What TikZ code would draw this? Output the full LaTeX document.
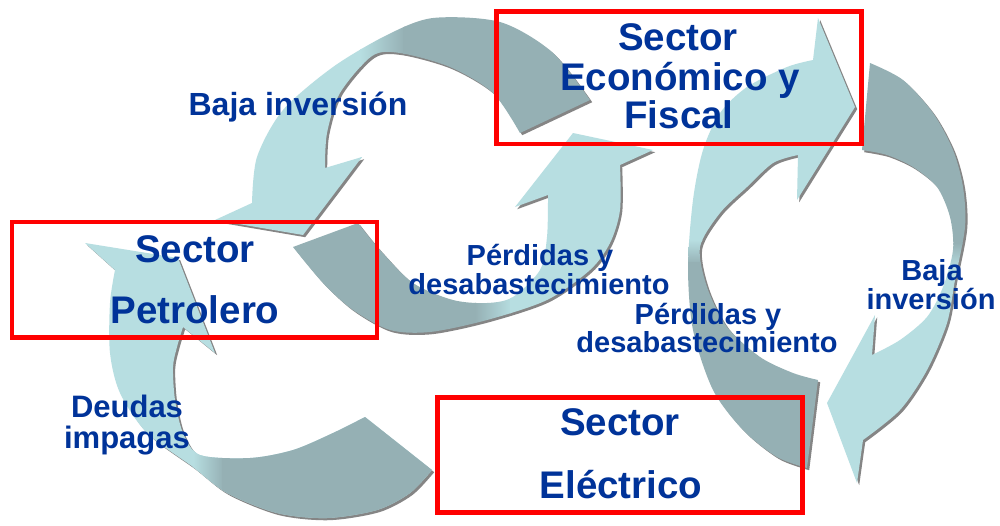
\documentclass[tikz,border=0pt]{standalone}
\usepackage{fontspec}
\setmainfont{Liberation Sans}
\definecolor{lb}{HTML}{B7DEE1}
\definecolor{gr}{HTML}{95B0B4}
\definecolor{sh}{HTML}{858585}
\definecolor{tblue}{HTML}{003399}
\definecolor{boxred}{HTML}{FF0000}
\newcommand\arwA[1]{\path[#1] plot[smooth] coordinates {(590,100) (552,52) (500,22) (433,18) (387,35) (333,67) (283,110) (257,157) (252,203)} -- (215,220) -- (303,235) -- (362,157) -- plot[smooth] coordinates {(325,168) (327,133) (340,93) (372,56) (400,53) (450,67) (493,93) (520,133)} -- cycle;}
\newcommand\arwB[1]{\path[#1] plot[smooth] coordinates {(293,247) (323,283) (353,310) (390,330) (430,332) (487,320) (547,300) (590,270) (610,243) (620,210) (620,165)} -- (653,150) -- (573,133) -- (515,207) -- plot[smooth] coordinates {(548,195) (547,237) (540,270) (513,297) (487,303) (453,300) (413,283) (380,250) (358,223)} -- cycle;}
\newcommand\arwC[1]{\path[#1] plot[smooth] coordinates {(432,470) (410,493) (377,510) (327,518) (277,513) (227,493) (193,467) (147,433) (120,393) (110,353) (110,303) (115,270)} -- (85,243) -- (178,258) -- (215,353) -- plot[smooth] coordinates {(183,327) (177,347) (173,367) (175,400) (183,433) (200,455) (250,458) (293,450) (333,433) (365,417)} -- cycle;}
\newcommand\arwD[1]{\path[#1] plot[smooth] coordinates {(807,468) (777,457) (743,430) (713,390) (693,330) (688,267) (693,200) (703,150) (720,113) (747,87) (787,67) (813,60)} -- (818,18) -- (855,107) -- (797,200) -- plot[smooth] coordinates {(798,155) (773,163) (747,187) (720,213) (700,247) (707,287) (727,327) (760,357) (793,373) (818,380)} -- cycle;}
\newcommand\arwE[1]{\path[#1] plot[smooth] coordinates {(870,63) (903,80) (933,113) (953,150) (963,187) (965,227) (955,280) (947,323) (927,370) (900,410) (863,440)} -- (857,483) -- (827,403) -- (875,315) -- plot[smooth] coordinates {(872,355) (900,340) (927,317) (943,287) (953,250) (950,217) (937,187) (913,167) (887,155) (862,150)} -- cycle;}
\tikzset{
  big/.style={font=\fontsize{38.5}{40}\selectfont\bfseries, text=tblue, anchor=base, inner sep=0pt},
  small/.style={font=\fontsize{29}{30}\selectfont\bfseries, text=tblue, anchor=base, inner sep=0pt},
  redbox/.style={draw=boxred, line width=4.5pt, inner sep=0pt},
  shadow/.style={fill=sh, shift={(2.2,2.2)}}
}
\begin{document}
\begin{tikzpicture}[x=1pt,y=-1pt]
\useasboundingbox (0,0) rectangle (1000,525);
\fill[white] (0,0) rectangle (1000,525);
% shadows
\arwA{shadow}\arwB{shadow}\arwC{shadow}\arwD{shadow}\arwE{shadow}
% arrow A
\begin{scope}
\arwA{clip}
\fill[lb] (190,0) rectangle (362,260);
\shade[left color=lb,right color=gr] (360,0) rectangle (405,260);
\fill[gr] (403,0) rectangle (620,260);
\end{scope}
% arrow B
\begin{scope}
\arwB{clip}
\fill[gr] (270,110) rectangle (477,345);
\shade[left color=gr,right color=lb] (475,110) rectangle (512,345);
\fill[lb] (510,110) rectangle (670,345);
\end{scope}
% arrow C
\begin{scope}
\arwC{clip}
\fill[lb] (70,230) rectangle (450,530);
\shade[left color=lb,right color=gr] (193,380) rectangle (224,530);
\fill[gr] (222,380) rectangle (450,530);
\end{scope}
% arrow D
\begin{scope}
\arwD{clip}
\fill[lb] (670,0) rectangle (870,242);
\shade[top color=lb,bottom color=gr] (670,240) rectangle (870,264);
\fill[gr] (670,262) rectangle (870,480);
\end{scope}
% arrow E
\begin{scope}
\arwE{clip}
\fill[gr] (810,50) rectangle (980,245);
\shade[top color=gr,bottom color=lb] (810,243) rectangle (980,268);
\fill[lb] (810,266) rectangle (980,500);
\end{scope}
% boxes
\node[redbox, minimum width=365pt, minimum height=132.5pt] (econ) at (679,77.75) {};
\node[redbox, minimum width=365pt, minimum height=115.5pt] (petro) at (194.5,279.75) {};
\node[redbox, minimum width=365pt, minimum height=115pt] (elec) at (620,455) {};
% texts
\node[big] (econ1) at (678,50) {Sector};
\node[big] (econ2) at (680,90) {Económico y};
\node[big] (econ3) at (679,128) {Fiscal};
\node[big] (petro1) at (195,262) {Sector};
\node[big] (petro2) at (195,323) {Petrolero};
\node[big] (elec1) at (620,435) {Sector};
\node[big] (elec2) at (621,498) {Eléctrico};
\node[small, font=\fontsize{32}{33}\selectfont\bfseries] (baja1) at (298,115) {Baja inversión};
\node[small] (perd1a) at (540,265) {Pérdidas y};
\node[small] (perd1b) at (539,294) {desabastecimiento};
\node[small] (perd2a) at (708,324) {Pérdidas y};
\node[small] (perd2b) at (707,352) {desabastecimiento};
\node[small] (baja2a) at (932,280) {Baja};
\node[small] (baja2b) at (931,309) {inversión};
\node[small, font=\fontsize{31}{32}\selectfont\bfseries] (deud1) at (127,417) {Deudas};
\node[small, font=\fontsize{31}{32}\selectfont\bfseries] (deud2) at (127,448) {impagas};
\end{tikzpicture}
\end{document}
